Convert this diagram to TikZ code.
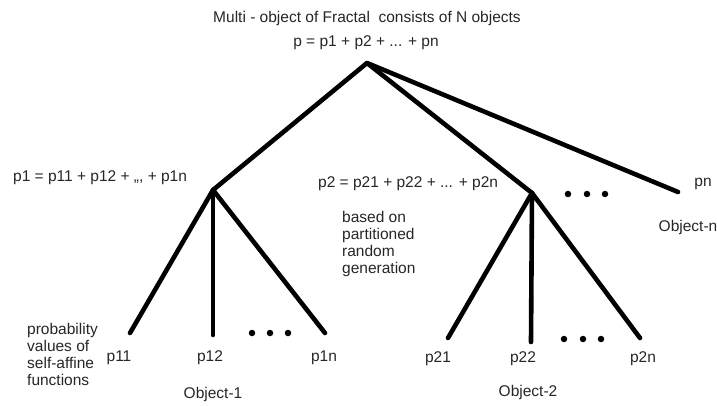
\documentclass[tikz,border=0pt]{standalone}
\usepackage{fontspec}
\setmainfont{Liberation Sans}
\usetikzlibrary{positioning}

\begin{document}
\begin{tikzpicture}[
  x=1pt, y=-1pt,
  font=\fontsize{15.5}{17}\selectfont,
  every node/.style={text=black!85},
  branch/.style={line width=4.6pt, line cap=round, line join=round},
  lbl/.style={inner sep=0pt},
  note/.style={inner sep=0pt, align=left, anchor=north west},
  dotmark/.style={circle, fill=black, inner sep=0pt, minimum size=6.5pt},
]
\useasboundingbox (0,0) rectangle (717,406);

% tree vertices
\coordinate (root) at (367,63);
\coordinate (p1v) at (213,190);
\coordinate (p2v) at (532,193);
\coordinate (pnv) at (678,192);
\coordinate (p11e) at (130,333);
\coordinate (p12e) at (213,335);
\coordinate (p1ne) at (325,333);
\coordinate (p21e) at (448,338);
\coordinate (p22e) at (531,342);
\coordinate (p2ne) at (640,338);

% texts
\node[lbl] (title) at (367,18) {Multi - object of Fractal \ consists of N objects};
\node[lbl] (psum) at (366,43) {p = p1 + p2 + ... + pn};
\node[lbl, anchor=west] (p1sum) at (13,178) {p1 = p11 + p12 + ,,, + p1n};
\node[lbl, anchor=west] (p2sum) at (318,184) {p2 = p21 + p22 + ... + p2n};
\node[lbl] (pn) at (703,184) {pn};
\node[lbl] (objn) at (688,227) {Object-n};
\node[note] (method) at (342,211) {based on\\partitioned\\random\\generation};
\node[note] (prob) at (27,323) {probability\\values of\\self-affine\\functions};

\node[lbl] (p11) at (119,358) {p11};
\node[lbl] (p12) at (210,358) {p12};
\node[lbl] (p1n) at (324,358) {p1n};
\node[lbl] (obj1) at (213,394) {Object-1};
\node[lbl] (p21) at (438,359) {p21};
\node[lbl] (p22) at (523,359) {p22};
\node[lbl] (p2n) at (643,359) {p2n};
\node[lbl] (obj2) at (528,392) {Object-2};

% branches
\draw[branch] (p1v) -- (root) -- (p2v);
\draw[branch] (root) -- (pnv);
\draw[branch] (p11e) -- (p1v) -- (p1ne);
\draw[branch] (p1v) -- (p12e);
\draw[branch] (p21e) -- (p2v) -- (p2ne);
\draw[branch] (p2v) -- (p22e);

% ellipses
\foreach \x in {568,587,605} \node[dotmark] at (\x,194) {};
\foreach \x in {252,270,288} \node[dotmark] at (\x,333) {};
\foreach \x in {564,583,601} \node[dotmark] at (\x,339) {};
\end{tikzpicture}
\end{document}
